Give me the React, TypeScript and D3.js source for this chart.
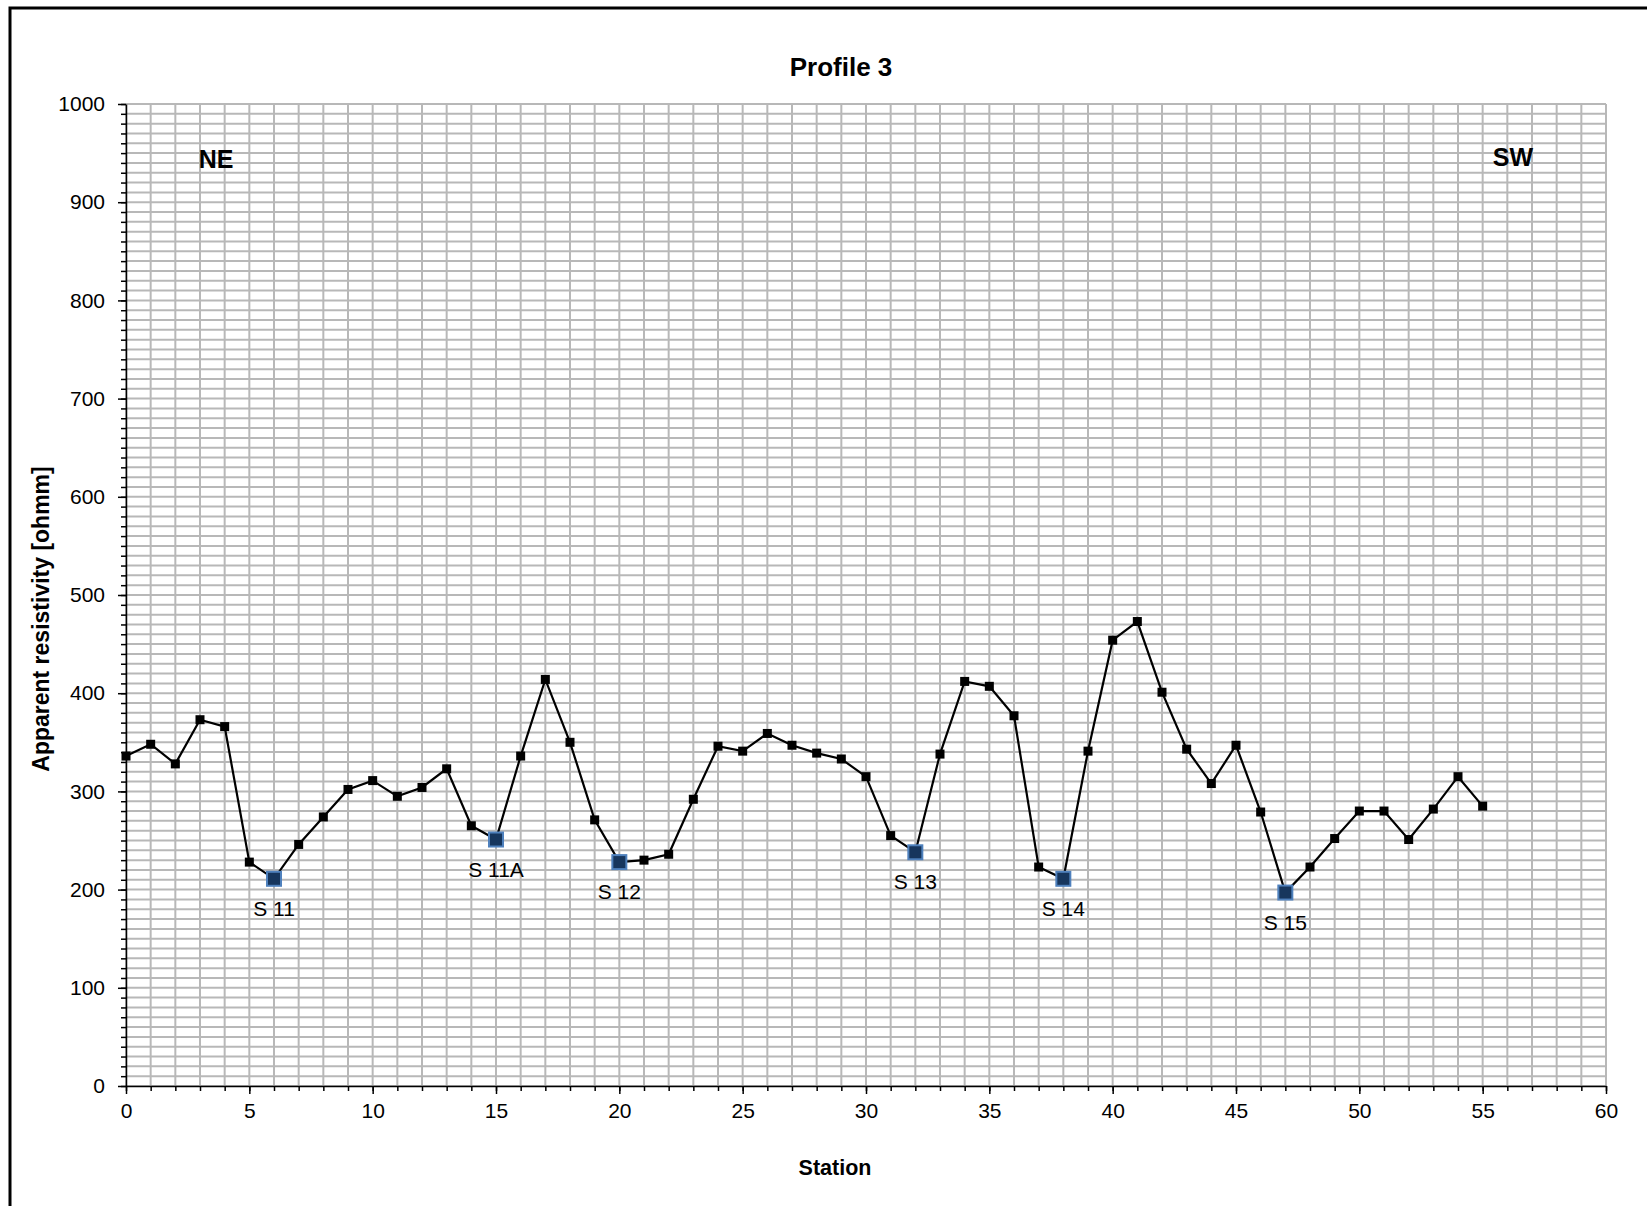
import React, { useEffect, useRef } from "react";
import * as d3 from "d3";

// station numbers along the profile
const stations = [
  0, 1, 2, 3, 4, 5, 6, 7, 8, 9, 10, 11, 12, 13, 14, 15, 16, 17, 18, 19,
  20, 21, 22, 23, 24, 25, 26, 27, 28, 29, 30, 31, 32, 33, 34, 35, 36, 37, 38, 39,
  40, 41, 42, 43, 44, 45, 46, 47, 48, 49, 50, 51, 52, 53, 54, 55,
];
// apparent resistivity [ohmm]
const resistivity = [
  336, 348, 328, 373, 366, 228, 211, 246, 274, 302,
  311, 295, 304, 323, 265, 251, 336, 414, 350, 271,
  228, 230, 236, 292, 346, 341, 359, 347, 339, 333,
  315, 255, 238, 338, 412, 407, 377, 223, 211, 341,
  454, 473, 401, 343, 308, 347, 279, 197, 223, 252,
  280, 280, 251, 282, 315, 285,
];
// sounding points marked on the profile
const soundingNames = ["S 11", "S 11A", "S 12", "S 13", "S 14", "S 15"];
const soundingStations = [6, 15, 20, 32, 38, 47];

const xTicks = [0, 5, 10, 15, 20, 25, 30, 35, 40, 45, 50, 55, 60];
const yTicks = [0, 100, 200, 300, 400, 500, 600, 700, 800, 900, 1000];

const width = 1647;
const height = 1206;
const plot = { left: 126, top: 104, right: 1606, bottom: 1086 };
const font = "'Liberation Sans', Arial, sans-serif";

const App = () => {
  const svgRef = useRef<SVGSVGElement>(null);

  useEffect(() => {
    const svg = d3.select(svgRef.current);
    svg.selectAll("*").remove();

    const x = d3.scaleLinear().domain([0, 60]).range([plot.left, plot.right]);
    const y = d3.scaleLinear().domain([0, 1000]).range([plot.bottom, plot.top]);

    svg.append("rect").attr("width", width).attr("height", height).attr("fill", "#fff");

    // outer chart frame (runs off the picture on the right and bottom)
    svg.append("rect")
      .attr("x", 10).attr("y", 8)
      .attr("width", width + 50).attr("height", height + 50)
      .attr("fill", "none").attr("stroke", "#000").attr("stroke-width", 3);

    // grid
    const grid = svg.append("g").attr("stroke", "#b8b8b8").attr("stroke-width", 2);
    grid.selectAll(".vg").data(x.ticks(60)).join("line")
      .attr("x1", (d) => x(d)).attr("x2", (d) => x(d))
      .attr("y1", plot.top).attr("y2", plot.bottom);
    grid.selectAll(".hg").data(y.ticks(100)).join("line")
      .attr("x1", plot.left).attr("x2", plot.right)
      .attr("y1", (d) => y(d)).attr("y2", (d) => y(d));

    // axes: minor ticks first, then major ticks with labels
    const yMinor = svg.append("g").attr("transform", `translate(${plot.left},0)`)
      .call(d3.axisLeft(y).ticks(100).tickSize(5).tickSizeOuter(0).tickFormat(() => ""));
    yMinor.select(".domain").remove();
    svg.append("g").attr("transform", `translate(${plot.left},0)`)
      .call(d3.axisLeft(y).tickValues(yTicks).tickSize(8).tickSizeOuter(0)
        .tickPadding(13).tickFormat(d3.format("d")));

    const xMinor = svg.append("g").attr("transform", `translate(0,${plot.bottom})`)
      .call(d3.axisBottom(x).ticks(60).tickSize(5).tickSizeOuter(0).tickFormat(() => ""));
    xMinor.select(".domain").remove();
    svg.append("g").attr("transform", `translate(0,${plot.bottom})`)
      .call(d3.axisBottom(x).tickValues(xTicks).tickSize(8).tickSizeOuter(0)
        .tickPadding(9).tickFormat(d3.format("d")));

    svg.selectAll(".tick line").attr("stroke", "#000").attr("stroke-width", 1.5);
    svg.selectAll(".domain").attr("stroke", "#000").attr("stroke-width", 1.5);
    svg.selectAll(".tick text")
      .attr("font-family", font).attr("font-size", 21).attr("fill", "#000");

    // profile line
    const points = stations.map((s, i) => [s, resistivity[i]] as [number, number]);
    const line = d3.line<[number, number]>().x((d) => x(d[0])).y((d) => y(d[1]));
    svg.append("path").datum(points)
      .attr("d", line).attr("fill", "none")
      .attr("stroke", "#000").attr("stroke-width", 2.2);

    svg.selectAll(".pt").data(points).join("rect")
      .attr("x", (d) => x(d[0]) - 4.5).attr("y", (d) => y(d[1]) - 4.5)
      .attr("width", 9).attr("height", 9).attr("fill", "#000");

    // sounding markers and labels
    const soundings = soundingStations.map((s, i) => ({
      name: soundingNames[i], st: s, val: resistivity[stations.indexOf(s)],
    }));
    svg.selectAll(".snd").data(soundings).join("rect")
      .attr("x", (d) => x(d.st) - 7).attr("y", (d) => y(d.val) - 7)
      .attr("width", 14).attr("height", 14)
      .attr("fill", "#17365d").attr("stroke", "#4f81bd").attr("stroke-width", 2);
    svg.selectAll(".sndl").data(soundings).join("text")
      .attr("x", (d) => x(d.st)).attr("y", (d) => y(d.val) + 37)
      .attr("text-anchor", "middle")
      .attr("font-family", font).attr("font-size", 21)
      .text((d) => d.name);

    // titles
    svg.append("text").attr("x", 841).attr("y", 76).attr("text-anchor", "middle")
      .attr("font-family", font).attr("font-size", 26).attr("font-weight", "bold")
      .text("Profile 3");
    svg.append("text").attr("x", 835).attr("y", 1175).attr("text-anchor", "middle")
      .attr("font-family", font).attr("font-size", 21.5).attr("font-weight", "bold")
      .text("Station");
    svg.append("text")
      .attr("transform", "translate(49,619) rotate(-90)").attr("text-anchor", "middle")
      .attr("font-family", font).attr("font-size", 23).attr("font-weight", "bold")
      .text("Apparent resistivity [ohmm]");
    svg.append("text").attr("x", 216).attr("y", 168).attr("text-anchor", "middle")
      .attr("font-family", font).attr("font-size", 25).attr("font-weight", "bold")
      .text("NE");
    svg.append("text").attr("x", 1513).attr("y", 166).attr("text-anchor", "middle")
      .attr("font-family", font).attr("font-size", 25).attr("font-weight", "bold")
      .text("SW");
  }, []);

  return (
    <svg
      ref={svgRef}
      width={width}
      height={height}
      style={{ position: "absolute", left: 0, top: 0, display: "block" }}
    />
  );
};

export default App;
